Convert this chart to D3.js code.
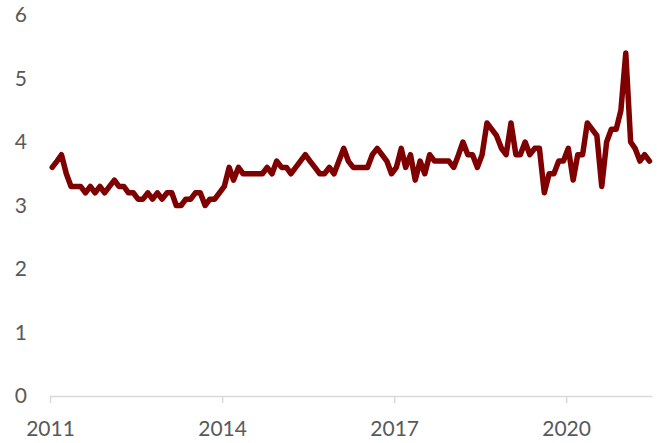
<!DOCTYPE html>
<html>
<head>
<meta charset="utf-8">
<script src="https://cdn.jsdelivr.net/npm/d3@7"></script>
<style>
  html, body { margin: 0; padding: 0; background: #fff; }
  svg { display: block; }
  text { font-family: Lato, "Open Sans", sans-serif; fill: #595959; }
</style>
</head>
<body>
<div id="chart"></div>
<script>
// Monthly series, Jan 2011 – Jun 2021 (points dated mid-month)
const startMonth = "2011-01";
const values = [
  3.6, 3.7, 3.8, 3.5, 3.3, 3.3, 3.3, 3.2, 3.3, 3.2, 3.3, 3.2,   // 2011
  3.3, 3.4, 3.3, 3.3, 3.2, 3.2, 3.1, 3.1, 3.2, 3.1, 3.2, 3.1,   // 2012
  3.2, 3.2, 3.0, 3.0, 3.1, 3.1, 3.2, 3.2, 3.0, 3.1, 3.1, 3.2,   // 2013
  3.3, 3.6, 3.4, 3.6, 3.5, 3.5, 3.5, 3.5, 3.5, 3.6, 3.5, 3.7,   // 2014
  3.6, 3.6, 3.5, 3.6, 3.7, 3.8, 3.7, 3.6, 3.5, 3.5, 3.6, 3.5,   // 2015
  3.7, 3.9, 3.7, 3.6, 3.6, 3.6, 3.6, 3.8, 3.9, 3.8, 3.7, 3.5,   // 2016
  3.6, 3.9, 3.6, 3.8, 3.4, 3.7, 3.5, 3.8, 3.7, 3.7, 3.7, 3.7,   // 2017
  3.6, 3.8, 4.0, 3.8, 3.8, 3.6, 3.8, 4.3, 4.2, 4.1, 3.9, 3.8,   // 2018
  4.3, 3.8, 3.8, 4.0, 3.8, 3.9, 3.9, 3.2, 3.5, 3.5, 3.7, 3.7,   // 2019
  3.9, 3.4, 3.8, 3.8, 4.3, 4.2, 4.1, 3.3, 4.0, 4.2, 4.2, 4.5,   // 2020
  5.4, 4.0, 3.9, 3.7, 3.8, 3.7                                  // 2021
];
const xTickYears = [2011, 2014, 2017, 2020];
const yTicks = [0, 1, 2, 3, 4, 5, 6];
const axisEnd = "2021-07";

const W = 657, H = 443;
const parseMonth = d3.timeParse("%Y-%m");
const first = parseMonth(startMonth);
const data = values.map((v, i) => {
  const m = d3.timeMonth.offset(first, i);
  return { date: d3.timeDay.offset(m, 14), value: v };
});

const x = d3.scaleTime()
  .domain([first, parseMonth(axisEnd)])
  .range([50, 652]);
const y = d3.scaleLinear().domain([0, 6]).range([396, 15]);

const svg = d3.select("#chart").append("svg")
  .attr("width", W).attr("height", H);

// x axis
const xAxis = d3.axisBottom(x)
  .tickValues(xTickYears.map(yr => new Date(yr, 0, 1)))
  .tickFormat(d3.timeFormat("%Y"))
  .tickSize(7)
  .tickSizeOuter(0)
  .tickPadding(18);
const gx = svg.append("g").attr("transform", `translate(0,${y(0)})`).call(xAxis);
gx.select(".domain").attr("stroke", "#d9d9d9").attr("stroke-width", 1.5);
gx.selectAll(".tick line").attr("stroke", "#d9d9d9").attr("stroke-width", 1.5);
gx.selectAll(".tick text")
  .attr("font-size", 21)
  .attr("fill", "#595959")
  .style("font-family", "Lato, 'Open Sans', sans-serif");

// y axis labels (no axis line)
const yAxis = d3.axisLeft(y).tickValues(yTicks).tickFormat(d3.format("d")).tickSize(0).tickPadding(0);
const gy = svg.append("g").attr("transform", "translate(27,0)").call(yAxis);
gy.select(".domain").remove();
gy.selectAll(".tick text")
  .attr("font-size", 21)
  .attr("fill", "#595959")
  .style("font-family", "Lato, 'Open Sans', sans-serif");

// line
const line = d3.line().x(d => x(d.date)).y(d => y(d.value));
svg.append("path")
  .datum(data)
  .attr("fill", "none")
  .attr("stroke", "#7f0000")
  .attr("stroke-width", 5.5)
  .attr("stroke-linejoin", "round")
  .attr("stroke-linecap", "round")
  .attr("d", line);
</script>
</body>
</html>
